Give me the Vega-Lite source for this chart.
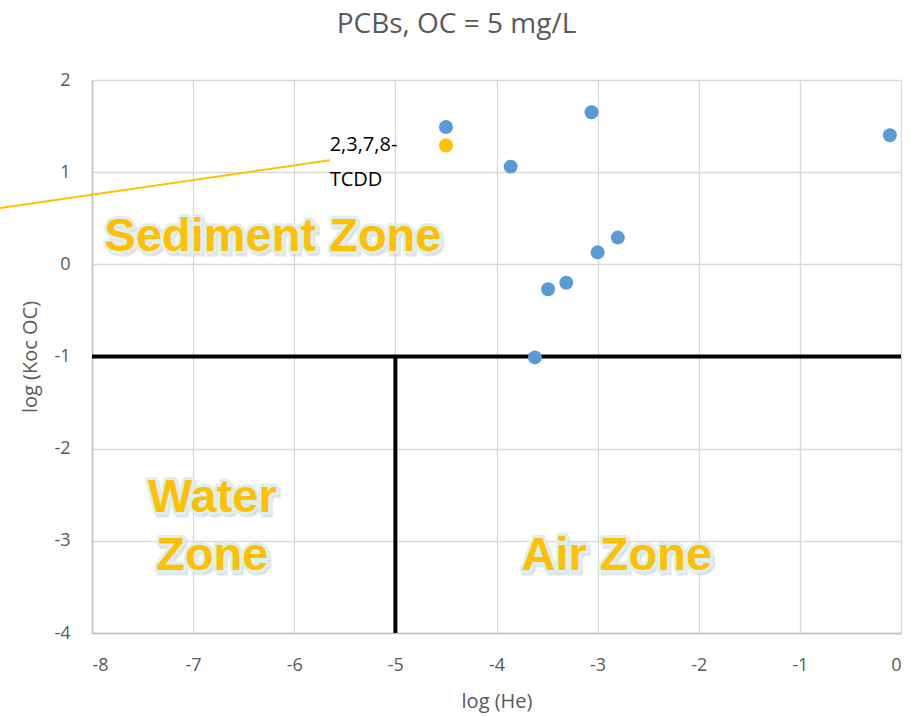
{
  "$schema": "https://vega.github.io/schema/vega-lite/v6.json",
  "autosize": "none",
  "width": 809,
  "height": 553,
  "padding": {"left": 92, "top": 80, "right": 10, "bottom": 84},
  "background": "white",
  "title": {"text": "PCBs, OC = 5 mg/L", "font": "Open Sans", "fontSize": 28, "fontWeight": "normal", "color": "#595959", "anchor": "middle", "frame": "group", "dx": -40, "offset": 32},
  "config": {
    "view": {"stroke": null},
    "axis": {"labelFont": "Open Sans", "labelFontSize": 18, "labelColor": "#595959", "titleFont": "Open Sans", "titleFontSize": 20, "titleFontWeight": "normal", "titleColor": "#595959", "gridColor": "#d9d9d9", "gridWidth": 1.3, "domainColor": "#bfbfbf", "domainWidth": 1.5, "ticks": false, "labelOverlap": false, "labelExpr": "datum.value < 0 ? '-' + abs(datum.value) : '' + datum.value"}
  },
  "encoding": {
    "x": {"field": "x", "type": "quantitative", "scale": {"domain": [-8, 0], "nice": false, "zero": false}, "axis": {"title": "log (He)", "tickCount": 8, "labelPadding": 23, "titlePadding": 17}},
    "y": {"field": "y", "type": "quantitative", "scale": {"domain": [-4, 2], "nice": false, "zero": false}, "axis": {"title": "log (Koc OC)", "tickCount": 6, "labelPadding": 22, "titlePadding": 13}}
  },
  "layer": [
    {
      "data": {"values": [
        {"x": -8, "y": -1, "x2": 0, "y2": -1},
        {"x": -5, "y": -1, "x2": -5, "y2": -4}
      ]},
      "mark": {"type": "rule", "color": "black", "strokeWidth": 4},
      "encoding": {"x2": {"field": "x2"}, "y2": {"field": "y2"}}
    },
    {
      "data": {"values": [
        {"x": -8.91, "y": 0.61, "x2": -5.65, "y2": 1.13}
      ]},
      "mark": {"type": "rule", "color": "#FFC000", "strokeWidth": 2, "clip": false},
      "encoding": {"x2": {"field": "x2"}, "y2": {"field": "y2"}}
    },
    {
      "data": {"values": [
        {"label": "Sediment Zone", "x": -6.21, "y": 0.3},
        {"label": "Water\nZone", "x": -6.81, "y": -2.53},
        {"label": "Air Zone", "x": -2.81, "y": -3.16}
      ]},
      "layer": [
        {"mark": {"type": "text", "font": "Liberation Sans", "fontWeight": "bold", "fontSize": 47, "lineBreak": "\n", "lineHeight": 58, "baseline": "middle", "align": "center", "dx": 2, "dy": 3, "color": "#9a9a9a", "opacity": 0.5, "stroke": "#9a9a9a", "strokeWidth": 5, "strokeOpacity": 0.5}, "encoding": {"text": {"field": "label"}}},
        {"mark": {"type": "text", "font": "Liberation Sans", "fontWeight": "bold", "fontSize": 47, "lineBreak": "\n", "lineHeight": 58, "baseline": "middle", "align": "center", "color": "#dceff4", "stroke": "#dceff4", "strokeWidth": 6, "strokeJoin": "round"}, "encoding": {"text": {"field": "label"}}},
        {"mark": {"type": "text", "font": "Liberation Sans", "fontWeight": "bold", "fontSize": 47, "lineBreak": "\n", "lineHeight": 58, "baseline": "middle", "align": "center", "color": "#FFC000"}, "encoding": {"text": {"field": "label"}}}
      ]
    },
    {
      "data": {"values": [
        {"label": "2,3,7,8-\nTCDD", "x": -5.65, "y": 1.29}
      ]},
      "mark": {"type": "text", "font": "Open Sans", "fontSize": 20, "lineBreak": "\n", "lineHeight": 35, "align": "left", "baseline": "middle", "color": "black"},
      "encoding": {"text": {"field": "label"}}
    },
    {
      "data": {"values": [
        {"x": -4.5, "y": 1.49, "group": "PCB"},
        {"x": -3.86, "y": 1.06, "group": "PCB"},
        {"x": -3.06, "y": 1.65, "group": "PCB"},
        {"x": -0.11, "y": 1.4, "group": "PCB"},
        {"x": -2.8, "y": 0.29, "group": "PCB"},
        {"x": -3.0, "y": 0.13, "group": "PCB"},
        {"x": -3.31, "y": -0.2, "group": "PCB"},
        {"x": -3.49, "y": -0.27, "group": "PCB"},
        {"x": -3.62, "y": -1.01, "group": "PCB"},
        {"x": -4.5, "y": 1.29, "group": "TCDD"}
      ]},
      "mark": {"type": "circle", "size": 195, "opacity": 1},
      "encoding": {"color": {"field": "group", "type": "nominal", "scale": {"domain": ["PCB", "TCDD"], "range": ["#5B9BD5", "#FFC000"]}, "legend": null}}
    }
  ]
}
